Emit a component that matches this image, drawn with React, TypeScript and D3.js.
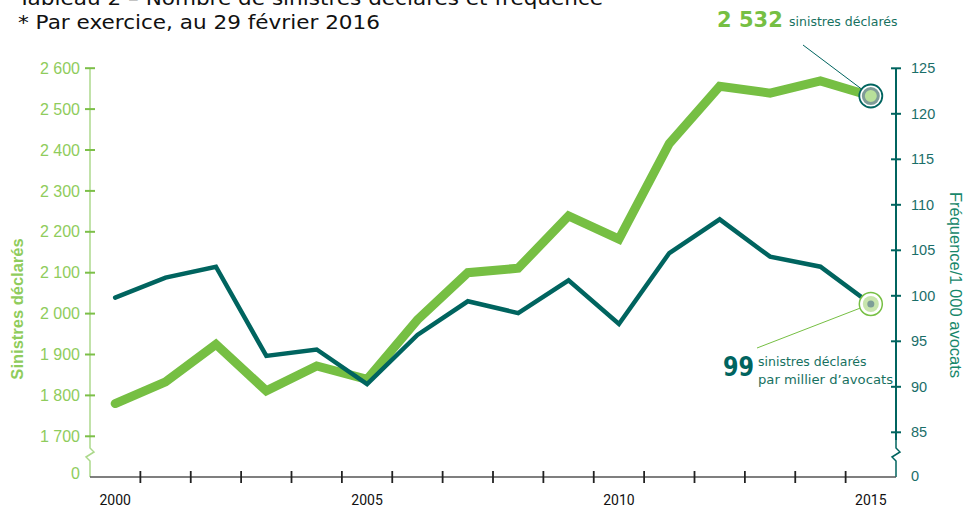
import * as d3 from "d3";

const years = [2000, 2001, 2002, 2003, 2004, 2005, 2006, 2007, 2008, 2009, 2010, 2011, 2012, 2013, 2014, 2015];
const sinistres = [1780, 1833, 1925, 1811, 1872, 1839, 1985, 2100, 2111, 2239, 2182, 2416, 2556, 2539, 2569, 2532];
const frequence = [99.8, 102.0, 103.2, 93.4, 94.1, 90.3, 95.7, 99.4, 98.1, 101.7, 96.9, 104.7, 108.4, 104.3, 103.2, 99.1];
const leftTicks = [1700, 1800, 1900, 2000, 2100, 2200, 2300, 2400, 2500, 2600];
const rightTicks = [85, 90, 95, 100, 105, 110, 115, 120, 125];
const yearLabels = [2000, 2005, 2010, 2015];

const GREEN = "#76bf43";
const TEAL = "#00645f";
const LEFT_TXT = "#8fcc5c";
const RIGHT_TXT = "#1a6e69";

// plot frame (pixels)
const X0 = 90;
const X1 = 896;
const BASE = 477;

const fmt = (v: number) => d3.format(",")(v).replace(/,/g, " ");

export default function App() {
  const x = d3.scaleBand<number>().domain(years).range([X0, X1]);
  const cx = (yr: number) => (x(yr) as number) + x.bandwidth() / 2;
  const yL = d3.scaleLinear().domain([1700, 2600]).range([436.3, 68.2]);
  const yR = d3.scaleLinear().domain([85, 125]).range([432.3, 68.3]);

  const lineL = d3
    .line<number>()
    .x((_, i) => cx(years[i]))
    .y((d) => yL(d));
  const lineR = d3
    .line<number>()
    .x((_, i) => cx(years[i]))
    .y((d) => yR(d));

  const lastX = cx(years[years.length - 1]);
  const lastL = yL(sinistres[sinistres.length - 1]);
  const lastR = yR(frequence[frequence.length - 1]);

  // zigzag break marks on the y axes
  const zig = (ax: number) =>
    `M${ax},${BASE} L${ax},461 L${ax - 4},457 L${ax + 4},452 L${ax},448 L${ax},440`;

  return (
    <svg
      width={964}
      height={508}
      style={{ position: "absolute", left: 0, top: 0, background: "#fff" }}
      fontFamily="'Liberation Sans', Arial, sans-serif"
    >
      {/* title (first line is cut by the top edge, as in the source) */}
      <g fontFamily="'DejaVu Sans', Verdana, sans-serif" fontSize={20} fill="#111">
        <text x={18} y={5} textLength={585} lengthAdjust="spacingAndGlyphs">
          Tableau 2 – Nombre de sinistres déclarés et fréquence
        </text>
        <text x={18} y={29} textLength={362} lengthAdjust="spacingAndGlyphs">
          * Par exercice, au 29 février 2016
        </text>
      </g>

      {/* left axis */}
      <line x1={X0} x2={X0} y1={yL(2600)} y2={440} stroke="#acd98c" strokeWidth={1.5} />
      <path d={zig(X0)} fill="none" stroke="#acd98c" strokeWidth={1.5} />
      {leftTicks.map((t) => (
        <g key={t}>
          <line x1={X0 - 5} x2={X0 + 5} y1={yL(t)} y2={yL(t)} stroke="#7cbf48" strokeWidth={2} />
          <text x={80} y={yL(t)} dy="0.35em" textAnchor="end" fontSize={16} fill={LEFT_TXT}>
            {fmt(t)}
          </text>
        </g>
      ))}
      <text x={80} y={473} dy="0.35em" textAnchor="end" fontSize={16} fill={LEFT_TXT}>0</text>
      <text
        transform="translate(23,309) rotate(-90)"
        textAnchor="middle"
        fontSize={16.5}
        fontWeight="bold"
        fill={LEFT_TXT}
      >
        Sinistres déclarés
      </text>

      {/* right axis */}
      <line x1={X1} x2={X1} y1={yR(125)} y2={440} stroke={TEAL} strokeWidth={2} />
      <path d={zig(X1)} fill="none" stroke={TEAL} strokeWidth={1.5} />
      {rightTicks.map((t) => (
        <g key={t}>
          <line x1={X1 - 5} x2={X1 + 5} y1={yR(t)} y2={yR(t)} stroke={TEAL} strokeWidth={2} />
          <text x={911} y={yR(t)} dy="0.35em" fontSize={14.5} fill={RIGHT_TXT}>
            {t}
          </text>
        </g>
      ))}
      <text x={911} y={476} dy="0.35em" fontSize={14.5} fill={RIGHT_TXT}>0</text>
      <text
        transform="translate(950,285) rotate(90)"
        textAnchor="middle"
        fontSize={16.5}
        fill="#17876a"
      >
        Fréquence/1 000 avocats
      </text>

      {/* x axis */}
      <line x1={X0} x2={X1} y1={BASE} y2={BASE} stroke="#555" strokeWidth={1.5} />
      {years.slice(1).map((yr) => (
        <line
          key={yr}
          x1={x(yr) as number}
          x2={x(yr) as number}
          y1={BASE - 6}
          y2={BASE + 6}
          stroke="#222"
          strokeWidth={1.8}
        />
      ))}
      {yearLabels.map((yr) => (
        <text
          key={yr}
          x={cx(yr)}
          y={505}
          textAnchor="middle"
          fontSize={14}
          fontFamily="Roboto, sans-serif"
          fill="#111"
        >
          {yr}
        </text>
      ))}

      {/* series */}
      <path d={lineL(sinistres) ?? ""} fill="none" stroke={GREEN} strokeWidth={9} strokeLinejoin="miter" strokeLinecap="round" />
      <path d={lineR(frequence) ?? ""} fill="none" stroke={TEAL} strokeWidth={4.5} strokeLinejoin="miter" strokeLinecap="round" />

      {/* annotation: last sinistres */}
      <line x1={803} y1={45} x2={lastX} y2={lastL} stroke={TEAL} strokeWidth={1} />
      <circle cx={lastX} cy={lastL} r={11.5} fill="#fff" stroke={TEAL} strokeWidth={1.8} />
      <circle cx={lastX} cy={lastL} r={7.5} fill="#b8e09a" stroke="#7f9c98" strokeWidth={3} />
      <g fontFamily="'DejaVu Sans', Verdana, sans-serif">
        <text x={717} y={27} fontSize={21} fontWeight="bold" fill={GREEN}>
          {fmt(sinistres[sinistres.length - 1])}
        </text>
        <text x={789} y={26} fontSize={12.5} fill="#17715f">sinistres déclarés</text>
      </g>

      {/* annotation: last frequence */}
      <line x1={757} y1={348} x2={lastX} y2={lastR} stroke={GREEN} strokeWidth={1} />
      <circle cx={lastX} cy={lastR} r={11.5} fill="#fff" stroke={GREEN} strokeWidth={1.5} />
      <circle cx={lastX} cy={lastR} r={8} fill="#c8e5ad" />
      <circle cx={lastX} cy={lastR} r={3.5} fill="#7d9d97" />
      <g fontFamily="'DejaVu Sans', Verdana, sans-serif">
        <text
          x={723}
          y={376}
          fontSize={27}
          fontWeight="bold"
          fill={TEAL}
          textLength={31}
          lengthAdjust="spacingAndGlyphs"
        >
          {Math.round(frequence[frequence.length - 1])}
        </text>
        <text x={758} y={366} fontSize={12.5} fill="#17715f">sinistres déclarés</text>
        <text x={758} y={384} fontSize={12.5} fill="#17715f" textLength={135} lengthAdjust="spacingAndGlyphs">
          par millier d’avocats
        </text>
      </g>
    </svg>
  );
}
